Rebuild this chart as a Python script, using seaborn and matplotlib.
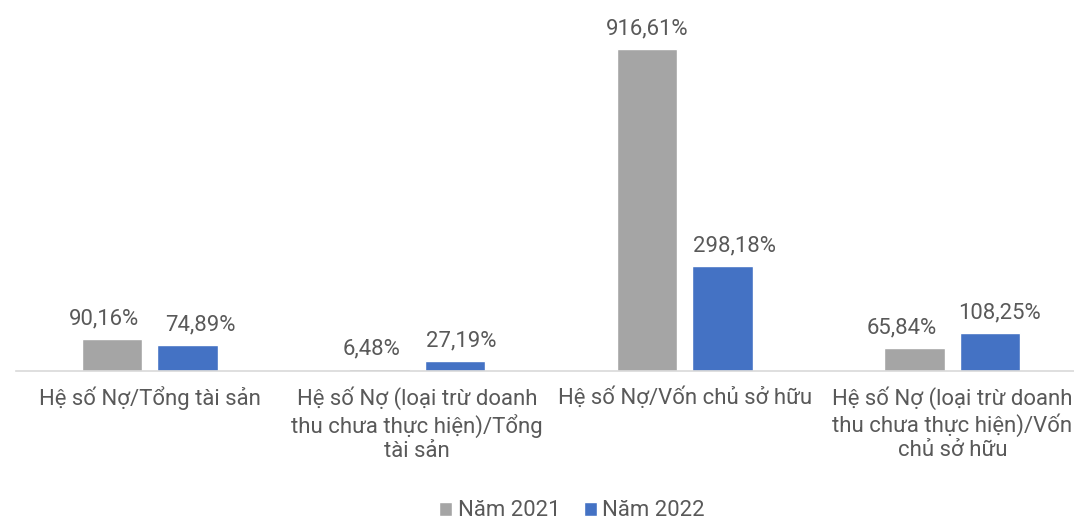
import pandas as pd
import matplotlib.pyplot as plt
import seaborn as sns

# Data
categories = [
    "Hệ số Nợ/Tổng tài sản",
    "Hệ số Nợ (loại trừ doanh\nthu chưa thực hiện)/Tổng\ntài sản",
    "Hệ số Nợ/Vốn chủ sở hữu",
    "Hệ số Nợ (loại trừ doanh\nthu chưa thực hiện)/Vốn\nchủ sở hữu",
]
series_names = ["Năm 2021", "Năm 2022"]
values_2021 = [90.16, 6.48, 916.61, 65.84]
values_2022 = [74.89, 27.19, 298.18, 108.25]
colors = ["#A5A5A5", "#4472C4"]

df = pd.DataFrame({
    "cat": categories * 2,
    "year": [series_names[0]] * 4 + [series_names[1]] * 4,
    "value": values_2021 + values_2022,
})

sns.set_style("white")
plt.rcParams["font.family"] = ["Roboto", "DejaVu Sans"]
text_color = "#595959"
fs = 15.9

fig = plt.figure(figsize=(10.74, 5.21), dpi=100)
W, H = 1074, 521
# axes placed in pixel terms: left 16, right 1086 (clipped), baseline y=371, top y=10
ax = fig.add_axes([16 / W, (H - 371) / H, 1070 / W, 361 / H])

sns.barplot(data=df, x="cat", y="value", hue="year", palette=colors,
            width=0.565, gap=0.205, ax=ax, saturation=1)

# label nudges in pixels (like Excel spreading the labels apart)
nudges = [[-8, -8, 0, -13], [12.5, 6.5, 12, 9]]
pad = 7
for cont, nud in zip(ax.containers, nudges):
    labels = [f"{b.get_height():.2f}%".replace(".", ",") for b in cont]
    texts = ax.bar_label(cont, labels=labels, padding=pad, fontsize=fs, color=text_color)
    for t, dx in zip(texts, nud):
        t.xyann = (dx * 72 / 100, pad)

ax.set_xlim(-0.5, 3.5)
ax.set_ylim(0, 1027.6)
ax.set_xlabel("")
ax.set_ylabel("")
ax.set_yticks([])
ax.tick_params(axis="x", length=0, pad=11, labelsize=fs, labelcolor=text_color)
for lab in ax.get_xticklabels():
    lab.set_linespacing(1.2)
    lab.set_verticalalignment("top")

for s in ["top", "right", "left"]:
    ax.spines[s].set_visible(False)
ax.spines["bottom"].set_color("#D9D9D9")
ax.spines["bottom"].set_linewidth(1.2)

handles, labels = ax.get_legend_handles_labels()
ax.get_legend().remove()
fig.legend(handles, labels, loc="center", bbox_to_anchor=(572 / W, (H - 511) / H),
           ncol=2, frameon=False, fontsize=fs, labelcolor=text_color,
           handlelength=0.6, handleheight=0.6, handletextpad=0.25, columnspacing=1.05)

plt.savefig("out.png", dpi=100)
